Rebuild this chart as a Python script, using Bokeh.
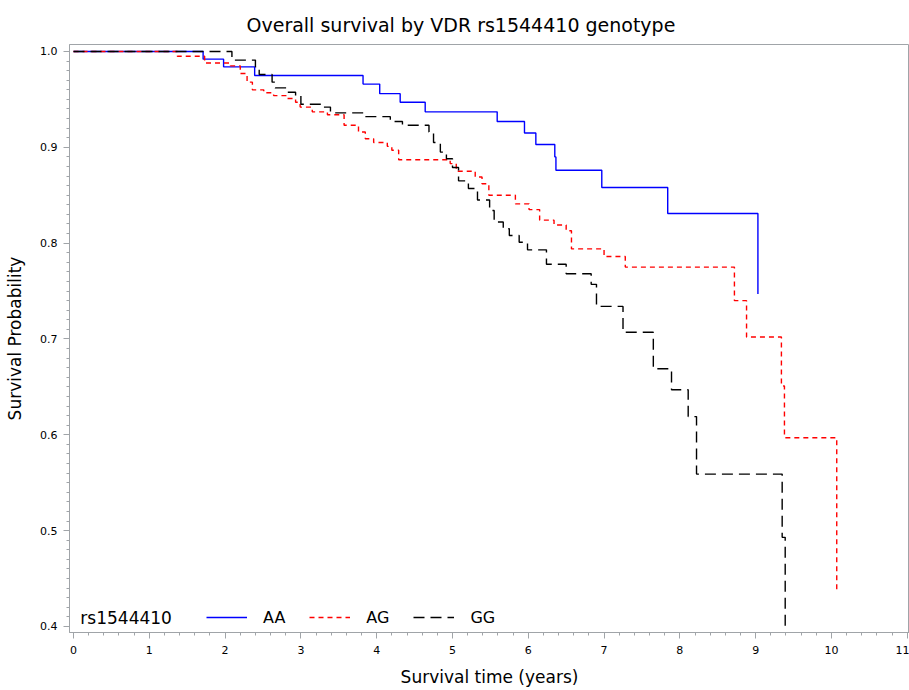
from bokeh.plotting import figure
from bokeh.models import Range1d, SingleIntervalTicker, NumeralTickFormatter, Legend, LegendItem, Label
from bokeh.embed import file_html
from bokeh.resources import INLINE

# Kaplan-Meier step data
aa_time = [0, 1.71, 1.98, 2.39, 3.82, 4.04, 4.31, 4.64, 5.59, 5.95, 6.10, 6.35, 6.365, 6.97, 7.84, 9.03]
aa_surv = [1.0, 0.992, 0.984, 0.975, 0.966, 0.956, 0.947, 0.937, 0.927, 0.915, 0.903, 0.890, 0.876, 0.858, 0.831, 0.747]

ag_time = [0, 1.37, 1.73, 2.07, 2.20, 2.29, 2.36, 2.51, 2.64, 2.82, 2.93, 2.99, 3.15, 3.35, 3.57, 3.76,
           3.85, 3.96, 4.14, 4.20, 4.29, 4.97, 5.05, 5.30, 5.39, 5.48, 5.83, 6.01, 6.15, 6.34, 6.50,
           6.57, 7.00, 7.28, 8.72, 8.88, 9.34, 9.38, 10.07]
ag_surv = [1.0, 0.995, 0.988, 0.985, 0.977, 0.968, 0.960, 0.957, 0.954, 0.951, 0.947, 0.942, 0.937, 0.934,
           0.923, 0.916, 0.909, 0.905, 0.901, 0.897, 0.887, 0.883, 0.875, 0.869, 0.862, 0.850, 0.841,
           0.835, 0.824, 0.819, 0.813, 0.794, 0.786, 0.775, 0.740, 0.702, 0.651, 0.597, 0.437]

gg_time = [0, 2.09, 2.40, 2.45, 2.62, 2.66, 2.82, 2.93, 3.00, 3.30, 3.39, 3.83, 4.18, 4.34, 4.69, 4.75,
           4.84, 4.92, 5.00, 5.08, 5.21, 5.33, 5.49, 5.55, 5.67, 5.75, 5.88, 5.99, 6.24, 6.50, 6.83,
           6.90, 7.25, 7.65, 7.89, 8.11, 8.22, 9.35, 9.39]
gg_surv = [1.0, 0.991, 0.984, 0.976, 0.968, 0.962, 0.9575, 0.954, 0.945, 0.942, 0.936, 0.932, 0.927,
           0.923, 0.916, 0.905, 0.895, 0.888, 0.879, 0.865, 0.857, 0.845, 0.834, 0.822, 0.815, 0.808,
           0.801, 0.793, 0.778, 0.768, 0.757, 0.734, 0.707, 0.669, 0.647, 0.619, 0.559, 0.493, 0.400]

groups = ["AA", "AG", "GG"]
legend_title = "rs1544410"
title_text = "Overall survival by VDR rs1544410 genotype"
x_label = "Survival time (years)"
y_label = "Survival Probability"

FONT = "DejaVu Sans"
GREY = "#a0a4a8"

p = figure(width=909, height=690, output_backend="svg", toolbar_location=None,
           x_range=Range1d(-0.053, 11.03), y_range=Range1d(0.3937, 1.0073),
           min_border_left=69, min_border_right=0, min_border_top=44, min_border_bottom=58)

p.title.text = title_text
p.title.align = "left"
p.title.offset = 177
p.title.standoff = 18
p.title.text_font = FONT
p.title.text_font_size = "19px"
p.title.text_font_style = "normal"
p.title.text_color = "black"

p.xgrid.visible = False
p.ygrid.visible = False
p.outline_line_color = GREY
p.background_fill_color = "white"
p.border_fill_color = "white"

p.xaxis.ticker = SingleIntervalTicker(interval=1, num_minor_ticks=5)
p.yaxis.ticker = SingleIntervalTicker(interval=0.1, num_minor_ticks=10)
p.yaxis.formatter = NumeralTickFormatter(format="0.0")

for ax in (p.xaxis[0], p.yaxis[0]):
    ax.axis_line_color = GREY
    ax.major_tick_line_color = GREY
    ax.minor_tick_line_color = GREY
    ax.major_tick_in = 0
    ax.major_tick_out = 6
    ax.minor_tick_in = 0
    ax.minor_tick_out = 3
    ax.major_label_text_font = FONT
    ax.major_label_text_font_size = "11px"
    ax.major_label_text_color = "black"
    ax.axis_label_text_font = FONT
    ax.axis_label_text_font_size = "17px"
    ax.axis_label_text_font_style = "normal"
    ax.axis_label_text_color = "black"

p.xaxis.axis_label = x_label
p.yaxis.axis_label = y_label
p.xaxis.major_label_standoff = 7
p.xaxis.axis_label_standoff = 10
p.yaxis.major_label_standoff = 6
p.yaxis.axis_label_standoff = 12

r_aa = p.step(aa_time, aa_surv, mode="after", line_color="#0000ff", line_width=1.4)
r_ag = p.step(ag_time, ag_surv, mode="after", line_color="#ff0000", line_width=1.4, line_dash="5 4")
r_gg = p.step(gg_time, gg_surv, mode="after", line_color="#000000", line_width=1.4, line_dash="11 6")

legend = Legend(items=[LegendItem(label=groups[0], renderers=[r_aa]),
                       LegendItem(label=groups[1], renderers=[r_ag]),
                       LegendItem(label=groups[2], renderers=[r_gg])],
                orientation="horizontal", location=(137, 5),
                glyph_width=41, glyph_height=20, label_standoff=16, spacing=24,
                padding=0, margin=0, border_line_alpha=0, background_fill_alpha=0,
                label_text_font=FONT, label_text_font_size="16px", label_text_color="black",
                label_height=20)
p.add_layout(legend)

p.add_layout(Label(x=0.09, y=0.409, text=legend_title, text_font=FONT, text_font_size="17px",
                   text_color="black", text_baseline="middle", text_align="left"))

open("out.html", "w").write(file_html(p, INLINE))
